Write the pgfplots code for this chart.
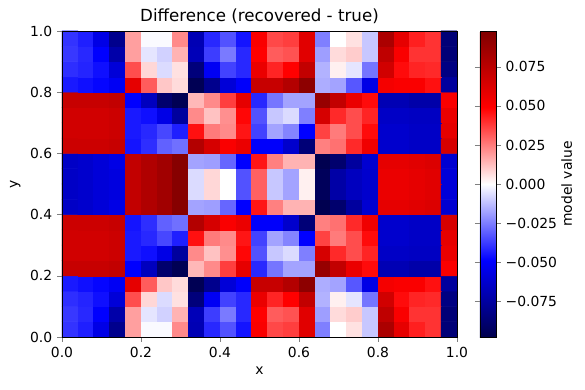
\documentclass[border=0pt]{standalone}
\usepackage{fontspec}
\setmainfont{DejaVu Sans}
\usepackage{pgfplots}
\pgfplotsset{compat=1.18}
\begin{document}
\begin{tikzpicture}
\useasboundingbox (-44.64pt,-38.16pt) rectangle (376.56pt,242.64pt);
\begin{axis}[
  at={(0,0)}, anchor=south west,
  scale only axis, width=284.4pt, height=220.32pt,
  xmin=0, xmax=1, ymin=0, ymax=1,
  enlargelimits=false, axis on top,
  tick align=outside, major tick length=3.5pt,
  xtick pos=left, ytick pos=left,
  xtick={0,0.2,0.4,0.6,0.8,1}, xticklabels={0.0,0.2,0.4,0.6,0.8,1.0},
  ytick={0,0.2,0.4,0.6,0.8,1}, yticklabels={0.0,0.2,0.4,0.6,0.8,1.0},
  tick label style={font=\fontsize{10}{12}\selectfont},
  label style={font=\fontsize{10}{12}\selectfont},
  xlabel={x}, ylabel={y},
  title={Difference (recovered - true)},
  title style={font=\fontsize{12}{14}\selectfont, yshift=-4pt},
  colormap={seismic}{rgb=(0,0,0.3) rgb=(0,0,1) rgb=(1,1,1) rgb=(1,0,0) rgb=(0.5,0,0)},
  point meta min=-0.098, point meta max=0.098,
  colorbar,
  colorbar style={
    width=11.52pt,
    at={(parent axis.north east)}, anchor=north west, xshift=7.92pt,
    scaled y ticks=false,
    ytick={-0.075,-0.05,-0.025,0,0.025,0.05,0.075},
    yticklabels={−0.075,−0.050,−0.025,0.000,0.025,0.050,0.075},
    tick align=outside, major tick length=3.5pt,
    yticklabel style={font=\fontsize{10}{12}\selectfont},
    ylabel={model value},
    every axis y label/.style={at={([xshift=51pt]axis description cs:1,0.5)}, anchor=center, rotate=90, font=\fontsize{10}{12}\selectfont},
  },
]
\addplot[matrix plot*, mesh/cols=25, mesh/rows=20, point meta=explicit] coordinates {
(0.02,0.025)[-0.0392] (0.06,0.025)[-0.0431] (0.10,0.025)[-0.0559] (0.14,0.025)[-0.0804] (0.18,0.025)[0.0186] (0.22,0.025)[-0.0010] (0.26,0.025)[-0.0010] (0.30,0.025)[0.0225] (0.34,0.025)[-0.0696] (0.38,0.025)[-0.0412] (0.42,0.025)[-0.0333] (0.46,0.025)[-0.0451] (0.50,0.025)[0.0510] (0.54,0.025)[0.0353] (0.58,0.025)[0.0372] (0.62,0.025)[0.0608] (0.66,0.025)[-0.0245] (0.70,0.025)[0.0000] (0.74,0.025)[0.0059] (0.78,0.025)[-0.0108] (0.82,0.025)[0.0813] (0.86,0.025)[0.0588] (0.90,0.025)[0.0431] (0.94,0.025)[0.0392] (0.98,0.025)[-0.0862]

(0.02,0.075)[-0.0382] (0.06,0.075)[-0.0412] (0.10,0.075)[-0.0490] (0.14,0.075)[-0.0725] (0.18,0.075)[0.0186] (0.22,0.075)[-0.0049] (0.26,0.075)[-0.0088] (0.30,0.075)[0.0147] (0.34,0.075)[-0.0686] (0.38,0.075)[-0.0372] (0.42,0.075)[-0.0255] (0.46,0.075)[-0.0412] (0.50,0.075)[0.0490] (0.54,0.075)[0.0314] (0.58,0.075)[0.0333] (0.62,0.075)[0.0608] (0.66,0.075)[-0.0186] (0.70,0.075)[0.0069] (0.74,0.075)[0.0098] (0.78,0.075)[-0.0108] (0.82,0.075)[0.0735] (0.86,0.075)[0.0510] (0.90,0.075)[0.0392] (0.94,0.075)[0.0392] (0.98,0.075)[-0.0862]

(0.02,0.125)[-0.0402] (0.06,0.125)[-0.0421] (0.10,0.125)[-0.0461] (0.14,0.125)[-0.0598] (0.18,0.125)[0.0343] (0.22,0.125)[0.0078] (0.26,0.125)[-0.0069] (0.30,0.125)[0.0059] (0.34,0.125)[-0.0853] (0.38,0.125)[-0.0519] (0.42,0.125)[-0.0363] (0.46,0.125)[-0.0412] (0.50,0.125)[0.0568] (0.54,0.125)[0.0421] (0.58,0.125)[0.0490] (0.62,0.125)[0.0725] (0.66,0.125)[-0.0147] (0.70,0.125)[0.0029] (0.74,0.125)[-0.0049] (0.78,0.125)[-0.0265] (0.82,0.125)[0.0666] (0.86,0.125)[0.0470] (0.90,0.125)[0.0421] (0.94,0.125)[0.0412] (0.98,0.125)[-0.0833]

(0.02,0.175)[-0.0441] (0.06,0.175)[-0.0461] (0.10,0.175)[-0.0480] (0.14,0.175)[-0.0519] (0.18,0.175)[0.0588] (0.22,0.175)[0.0314] (0.26,0.175)[0.0108] (0.30,0.175)[0.0069] (0.34,0.175)[-0.0960] (0.38,0.175)[-0.0804] (0.42,0.175)[-0.0598] (0.46,0.175)[-0.0500] (0.50,0.175)[0.0706] (0.54,0.175)[0.0706] (0.58,0.175)[0.0784] (0.62,0.175)[0.0931] (0.66,0.175)[-0.0157] (0.70,0.175)[-0.0176] (0.74,0.175)[-0.0323] (0.78,0.175)[-0.0559] (0.82,0.175)[0.0529] (0.86,0.175)[0.0510] (0.90,0.175)[0.0510] (0.94,0.175)[0.0461] (0.98,0.175)[-0.0755]

(0.02,0.225)[0.0706] (0.06,0.225)[0.0706] (0.10,0.225)[0.0706] (0.14,0.225)[0.0725] (0.18,0.225)[-0.0490] (0.22,0.225)[-0.0666] (0.26,0.225)[-0.0892] (0.30,0.225)[-0.0960] (0.34,0.225)[0.0137] (0.38,0.225)[0.0225] (0.42,0.225)[0.0372] (0.46,0.225)[0.0588] (0.50,0.225)[-0.0412] (0.54,0.225)[-0.0265] (0.58,0.225)[-0.0176] (0.62,0.225)[-0.0176] (0.66,0.225)[0.0892] (0.70,0.225)[0.0725] (0.74,0.225)[0.0568] (0.78,0.225)[0.0470] (0.82,0.225)[-0.0696] (0.86,0.225)[-0.0696] (0.90,0.225)[-0.0725] (0.94,0.225)[-0.0725] (0.98,0.225)[0.0510]

(0.02,0.275)[0.0666] (0.06,0.275)[0.0666] (0.10,0.275)[0.0666] (0.14,0.275)[0.0686] (0.18,0.275)[-0.0441] (0.22,0.275)[-0.0461] (0.26,0.275)[-0.0559] (0.30,0.275)[-0.0755] (0.34,0.275)[0.0225] (0.38,0.275)[0.0118] (0.42,0.275)[0.0216] (0.46,0.275)[0.0480] (0.50,0.275)[-0.0333] (0.54,0.275)[-0.0108] (0.58,0.275)[-0.0069] (0.62,0.275)[-0.0245] (0.66,0.275)[0.0647] (0.70,0.275)[0.0412] (0.74,0.275)[0.0343] (0.78,0.275)[0.0421] (0.82,0.275)[-0.0647] (0.86,0.275)[-0.0647] (0.90,0.275)[-0.0657] (0.94,0.275)[-0.0657] (0.98,0.275)[0.0568]

(0.02,0.325)[0.0666] (0.06,0.325)[0.0666] (0.10,0.325)[0.0666] (0.14,0.325)[0.0686] (0.18,0.325)[-0.0441] (0.22,0.325)[-0.0412] (0.26,0.325)[-0.0353] (0.30,0.325)[-0.0431] (0.34,0.325)[0.0461] (0.38,0.325)[0.0255] (0.42,0.325)[0.0225] (0.46,0.325)[0.0451] (0.50,0.325)[-0.0363] (0.54,0.325)[-0.0176] (0.58,0.325)[-0.0235] (0.62,0.325)[-0.0490] (0.66,0.325)[0.0363] (0.70,0.325)[0.0255] (0.74,0.325)[0.0343] (0.78,0.325)[0.0470] (0.82,0.325)[-0.0627] (0.86,0.325)[-0.0627] (0.90,0.325)[-0.0647] (0.94,0.325)[-0.0647] (0.98,0.325)[0.0588]

(0.02,0.375)[0.0686] (0.06,0.375)[0.0686] (0.10,0.375)[0.0686] (0.14,0.375)[0.0706] (0.18,0.375)[-0.0451] (0.22,0.375)[-0.0402] (0.26,0.375)[-0.0304] (0.30,0.375)[-0.0274] (0.34,0.375)[0.0784] (0.38,0.375)[0.0647] (0.42,0.375)[0.0510] (0.46,0.375)[0.0568] (0.50,0.375)[-0.0500] (0.54,0.375)[-0.0500] (0.58,0.375)[-0.0627] (0.62,0.375)[-0.0862] (0.66,0.375)[0.0245] (0.70,0.375)[0.0274] (0.74,0.375)[0.0412] (0.78,0.375)[0.0549] (0.82,0.375)[-0.0627] (0.86,0.375)[-0.0627] (0.90,0.375)[-0.0647] (0.94,0.375)[-0.0647] (0.98,0.375)[0.0647]

(0.02,0.425)[-0.0647] (0.06,0.425)[-0.0627] (0.10,0.425)[-0.0598] (0.14,0.425)[-0.0559] (0.18,0.425)[0.0725] (0.22,0.425)[0.0794] (0.26,0.425)[0.0853] (0.30,0.425)[0.0951] (0.34,0.425)[-0.0176] (0.38,0.425)[-0.0186] (0.42,0.425)[-0.0294] (0.46,0.425)[-0.0490] (0.50,0.425)[0.0451] (0.54,0.425)[0.0245] (0.58,0.425)[0.0147] (0.62,0.425)[0.0147] (0.66,0.425)[-0.0970] (0.70,0.425)[-0.0892] (0.74,0.425)[-0.0755] (0.78,0.425)[-0.0617] (0.82,0.425)[0.0588] (0.86,0.425)[0.0588] (0.90,0.425)[0.0608] (0.94,0.425)[0.0627] (0.98,0.425)[-0.0617]

(0.02,0.475)[-0.0647] (0.06,0.475)[-0.0627] (0.10,0.475)[-0.0598] (0.14,0.475)[-0.0578] (0.18,0.475)[0.0725] (0.22,0.475)[0.0794] (0.26,0.475)[0.0853] (0.30,0.475)[0.0951] (0.34,0.475)[-0.0069] (0.38,0.475)[0.0078] (0.42,0.475)[0.0000] (0.46,0.475)[-0.0333] (0.50,0.475)[0.0304] (0.54,0.475)[-0.0108] (0.58,0.475)[-0.0176] (0.62,0.475)[0.0029] (0.66,0.475)[-0.0941] (0.70,0.475)[-0.0735] (0.74,0.475)[-0.0666] (0.78,0.475)[-0.0627] (0.82,0.475)[0.0568] (0.86,0.475)[0.0568] (0.90,0.475)[0.0588] (0.94,0.475)[0.0608] (0.98,0.475)[-0.0598]

(0.02,0.525)[-0.0647] (0.06,0.525)[-0.0627] (0.10,0.525)[-0.0598] (0.14,0.525)[-0.0578] (0.18,0.525)[0.0725] (0.22,0.525)[0.0794] (0.26,0.525)[0.0853] (0.30,0.525)[0.0951] (0.34,0.525)[-0.0069] (0.38,0.525)[0.0078] (0.42,0.525)[0.0000] (0.46,0.525)[-0.0333] (0.50,0.525)[0.0304] (0.54,0.525)[-0.0108] (0.58,0.525)[-0.0176] (0.62,0.525)[0.0029] (0.66,0.525)[-0.0941] (0.70,0.525)[-0.0735] (0.74,0.525)[-0.0666] (0.78,0.525)[-0.0627] (0.82,0.525)[0.0568] (0.86,0.525)[0.0568] (0.90,0.525)[0.0588] (0.94,0.525)[0.0608] (0.98,0.525)[-0.0598]

(0.02,0.575)[-0.0647] (0.06,0.575)[-0.0627] (0.10,0.575)[-0.0598] (0.14,0.575)[-0.0559] (0.18,0.575)[0.0725] (0.22,0.575)[0.0794] (0.26,0.575)[0.0853] (0.30,0.575)[0.0951] (0.34,0.575)[-0.0176] (0.38,0.575)[-0.0186] (0.42,0.575)[-0.0294] (0.46,0.575)[-0.0490] (0.50,0.575)[0.0451] (0.54,0.575)[0.0245] (0.58,0.575)[0.0147] (0.62,0.575)[0.0147] (0.66,0.575)[-0.0970] (0.70,0.575)[-0.0892] (0.74,0.575)[-0.0755] (0.78,0.575)[-0.0617] (0.82,0.575)[0.0588] (0.86,0.575)[0.0588] (0.90,0.575)[0.0608] (0.94,0.575)[0.0627] (0.98,0.575)[-0.0617]

(0.02,0.625)[0.0686] (0.06,0.625)[0.0686] (0.10,0.625)[0.0686] (0.14,0.625)[0.0706] (0.18,0.625)[-0.0451] (0.22,0.625)[-0.0402] (0.26,0.625)[-0.0304] (0.30,0.625)[-0.0274] (0.34,0.625)[0.0784] (0.38,0.625)[0.0647] (0.42,0.625)[0.0510] (0.46,0.625)[0.0568] (0.50,0.625)[-0.0500] (0.54,0.625)[-0.0500] (0.58,0.625)[-0.0627] (0.62,0.625)[-0.0862] (0.66,0.625)[0.0245] (0.70,0.625)[0.0274] (0.74,0.625)[0.0412] (0.78,0.625)[0.0549] (0.82,0.625)[-0.0627] (0.86,0.625)[-0.0627] (0.90,0.625)[-0.0647] (0.94,0.625)[-0.0647] (0.98,0.625)[0.0647]

(0.02,0.675)[0.0666] (0.06,0.675)[0.0666] (0.10,0.675)[0.0666] (0.14,0.675)[0.0686] (0.18,0.675)[-0.0441] (0.22,0.675)[-0.0412] (0.26,0.675)[-0.0353] (0.30,0.675)[-0.0431] (0.34,0.675)[0.0461] (0.38,0.675)[0.0255] (0.42,0.675)[0.0225] (0.46,0.675)[0.0451] (0.50,0.675)[-0.0363] (0.54,0.675)[-0.0176] (0.58,0.675)[-0.0235] (0.62,0.675)[-0.0490] (0.66,0.675)[0.0363] (0.70,0.675)[0.0255] (0.74,0.675)[0.0343] (0.78,0.675)[0.0470] (0.82,0.675)[-0.0627] (0.86,0.675)[-0.0627] (0.90,0.675)[-0.0647] (0.94,0.675)[-0.0647] (0.98,0.675)[0.0588]

(0.02,0.725)[0.0666] (0.06,0.725)[0.0666] (0.10,0.725)[0.0666] (0.14,0.725)[0.0686] (0.18,0.725)[-0.0441] (0.22,0.725)[-0.0461] (0.26,0.725)[-0.0559] (0.30,0.725)[-0.0755] (0.34,0.725)[0.0225] (0.38,0.725)[0.0118] (0.42,0.725)[0.0216] (0.46,0.725)[0.0480] (0.50,0.725)[-0.0333] (0.54,0.725)[-0.0108] (0.58,0.725)[-0.0069] (0.62,0.725)[-0.0245] (0.66,0.725)[0.0647] (0.70,0.725)[0.0412] (0.74,0.725)[0.0343] (0.78,0.725)[0.0421] (0.82,0.725)[-0.0647] (0.86,0.725)[-0.0647] (0.90,0.725)[-0.0657] (0.94,0.725)[-0.0657] (0.98,0.725)[0.0568]

(0.02,0.775)[0.0706] (0.06,0.775)[0.0706] (0.10,0.775)[0.0706] (0.14,0.775)[0.0725] (0.18,0.775)[-0.0490] (0.22,0.775)[-0.0666] (0.26,0.775)[-0.0892] (0.30,0.775)[-0.0960] (0.34,0.775)[0.0137] (0.38,0.775)[0.0225] (0.42,0.775)[0.0372] (0.46,0.775)[0.0588] (0.50,0.775)[-0.0412] (0.54,0.775)[-0.0265] (0.58,0.775)[-0.0176] (0.62,0.775)[-0.0176] (0.66,0.775)[0.0892] (0.70,0.775)[0.0725] (0.74,0.775)[0.0568] (0.78,0.775)[0.0470] (0.82,0.775)[-0.0696] (0.86,0.775)[-0.0696] (0.90,0.775)[-0.0725] (0.94,0.775)[-0.0725] (0.98,0.775)[0.0510]

(0.02,0.825)[-0.0441] (0.06,0.825)[-0.0461] (0.10,0.825)[-0.0480] (0.14,0.825)[-0.0519] (0.18,0.825)[0.0588] (0.22,0.825)[0.0314] (0.26,0.825)[0.0108] (0.30,0.825)[0.0069] (0.34,0.825)[-0.0960] (0.38,0.825)[-0.0804] (0.42,0.825)[-0.0598] (0.46,0.825)[-0.0500] (0.50,0.825)[0.0706] (0.54,0.825)[0.0706] (0.58,0.825)[0.0784] (0.62,0.825)[0.0931] (0.66,0.825)[-0.0157] (0.70,0.825)[-0.0176] (0.74,0.825)[-0.0323] (0.78,0.825)[-0.0559] (0.82,0.825)[0.0529] (0.86,0.825)[0.0510] (0.90,0.825)[0.0510] (0.94,0.825)[0.0461] (0.98,0.825)[-0.0755]

(0.02,0.875)[-0.0402] (0.06,0.875)[-0.0421] (0.10,0.875)[-0.0461] (0.14,0.875)[-0.0598] (0.18,0.875)[0.0343] (0.22,0.875)[0.0078] (0.26,0.875)[-0.0069] (0.30,0.875)[0.0059] (0.34,0.875)[-0.0853] (0.38,0.875)[-0.0519] (0.42,0.875)[-0.0363] (0.46,0.875)[-0.0412] (0.50,0.875)[0.0568] (0.54,0.875)[0.0421] (0.58,0.875)[0.0490] (0.62,0.875)[0.0725] (0.66,0.875)[-0.0147] (0.70,0.875)[0.0029] (0.74,0.875)[-0.0049] (0.78,0.875)[-0.0265] (0.82,0.875)[0.0666] (0.86,0.875)[0.0470] (0.90,0.875)[0.0421] (0.94,0.875)[0.0412] (0.98,0.875)[-0.0833]

(0.02,0.925)[-0.0382] (0.06,0.925)[-0.0412] (0.10,0.925)[-0.0490] (0.14,0.925)[-0.0725] (0.18,0.925)[0.0186] (0.22,0.925)[-0.0049] (0.26,0.925)[-0.0088] (0.30,0.925)[0.0147] (0.34,0.925)[-0.0686] (0.38,0.925)[-0.0372] (0.42,0.925)[-0.0255] (0.46,0.925)[-0.0412] (0.50,0.925)[0.0490] (0.54,0.925)[0.0314] (0.58,0.925)[0.0333] (0.62,0.925)[0.0608] (0.66,0.925)[-0.0186] (0.70,0.925)[0.0069] (0.74,0.925)[0.0098] (0.78,0.925)[-0.0108] (0.82,0.925)[0.0735] (0.86,0.925)[0.0510] (0.90,0.925)[0.0392] (0.94,0.925)[0.0392] (0.98,0.925)[-0.0862]

(0.02,0.975)[-0.0392] (0.06,0.975)[-0.0431] (0.10,0.975)[-0.0559] (0.14,0.975)[-0.0804] (0.18,0.975)[0.0186] (0.22,0.975)[-0.0010] (0.26,0.975)[-0.0010] (0.30,0.975)[0.0225] (0.34,0.975)[-0.0696] (0.38,0.975)[-0.0412] (0.42,0.975)[-0.0333] (0.46,0.975)[-0.0451] (0.50,0.975)[0.0510] (0.54,0.975)[0.0353] (0.58,0.975)[0.0372] (0.62,0.975)[0.0608] (0.66,0.975)[-0.0245] (0.70,0.975)[0.0000] (0.74,0.975)[0.0059] (0.78,0.975)[-0.0108] (0.82,0.975)[0.0813] (0.86,0.975)[0.0588] (0.90,0.975)[0.0431] (0.94,0.975)[0.0392] (0.98,0.975)[-0.0862]
};
\end{axis}
\end{tikzpicture}
\end{document}
